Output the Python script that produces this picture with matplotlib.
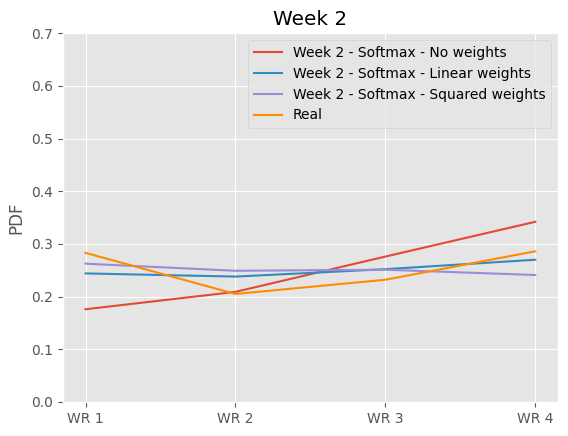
import matplotlib
matplotlib.use("Agg")
import matplotlib.pyplot as plt

plt.style.use("ggplot")

# Dados
categorias = ["WR 1", "WR 2", "WR 3", "WR 4"]
sem_pesos = [0.176, 0.209, 0.276, 0.342]
pesos_lineares = [0.244, 0.238, 0.252, 0.270]
pesos_quadrados = [0.2625, 0.249, 0.251, 0.241]
real = [0.283, 0.205, 0.232, 0.286]

fig = plt.figure(figsize=(5.68, 4.36), dpi=100)
ax = fig.add_axes([0.111, 0.078, 0.871, 0.846])

ax.plot(categorias, sem_pesos, color="#E24A33", label="Week 2 - Softmax - No weights")
ax.plot(categorias, pesos_lineares, color="#348ABD", label="Week 2 - Softmax - Linear weights")
ax.plot(categorias, pesos_quadrados, color="#988ED5", label="Week 2 - Softmax - Squared weights")
ax.plot(categorias, real, color="darkorange", label="Real")

ax.set_ylim(0, 0.7)
ax.set_ylabel("PDF")
ax.set_title("Week 2")
ax.legend(loc="upper right")

plt.savefig("out.png", dpi=100)
